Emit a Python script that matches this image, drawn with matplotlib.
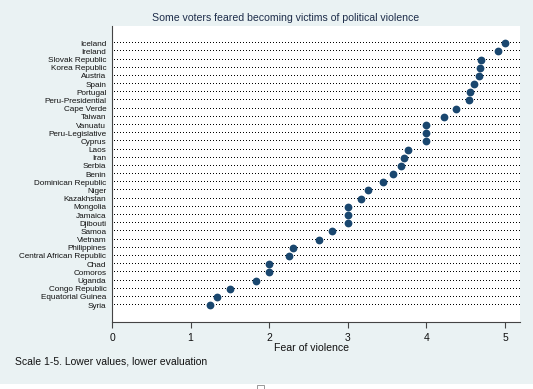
import numpy as np
import matplotlib.pyplot as plt
import matplotlib.patches as patches

plt.rcParams['font.family'] = ['Liberation Sans', 'DejaVu Sans']

countries = ['Iceland', 'Ireland', 'Slovak Republic', 'Korea Republic', 'Austria',
             'Spain', 'Portugal', 'Peru-Presidential', 'Cape Verde', 'Taiwan',
             'Vanuatu', 'Peru-Legislative', 'Cyprus', 'Laos', 'Iran', 'Serbia',
             'Benin', 'Dominican Republic', 'Niger', 'Kazakhstan', 'Mongolia',
             'Jamaica', 'Djibouti', 'Samoa', 'Vietnam', 'Philippines',
             'Central African Republic', 'Chad', 'Comoros', 'Uganda',
             'Congo Republic', 'Equatorial Guinea', 'Syria']
fear = [5.0, 4.91, 4.70, 4.675, 4.67, 4.61, 4.555, 4.54, 4.38, 4.22,
        4.0, 4.0, 4.0, 3.76, 3.72, 3.67, 3.57, 3.45, 3.26, 3.17,
        3.0, 3.0, 3.0, 2.80, 2.63, 2.30, 2.25, 2.0, 2.0, 1.83,
        1.50, 1.34, 1.25]
xticks = [0, 1, 2, 3, 4, 5]

W, H = 533, 389
bg = '#eaf2f3'
fig = plt.figure(figsize=(W / 100, H / 100), dpi=100, facecolor=bg)
# plot region in pixels: left 112, right 520, top 26, bottom 322
ax = fig.add_axes([112 / W, 1 - 322 / H, (520 - 112) / W, (322 - 26) / H])
ax.set_facecolor('white')

n = len(countries)
ypos = np.arange(n)[::-1]
xmax = 5.19

# dotted guide lines: one pixel dot every 3 pixels
step = xmax / 408 * 3
gx = np.arange(step / 2, xmax, step)
for y in ypos:
    ax.plot(gx, np.full_like(gx, y), ',', color='black', zorder=1)
ax.plot(fear, ypos, 'o', color='#1a476f', ms=5.6, mew=0, zorder=3)

ax.set_xlim(0, xmax)
ax.set_ylim(-2.07, n - 1 + 2.1)
ax.set_yticks(ypos)
ax.set_yticklabels(countries, fontsize=5.9, color='#111111')
ax.tick_params(axis='y', length=0, pad=4)
ax.set_xticks(xticks)
ax.tick_params(axis='x', length=4, width=0.8, color='#444444', labelsize=7.5,
               pad=4, labelcolor='#111111')
for s in ['top', 'right']:
    ax.spines[s].set_visible(False)
for s in ['left', 'bottom']:
    ax.spines[s].set_color('#444444')
    ax.spines[s].set_linewidth(0.8)

fig.text(286 / W, 1 - 18 / H, 'Some voters feared becoming victims of political violence',
         ha='center', va='center', fontsize=7.6, color='#1e2d4a')
fig.text(312 / W, 1 - 348 / H, 'Fear of violence', ha='center', va='center',
         fontsize=7.6, color='#111111')
fig.text(15 / W, 1 - 361 / H, 'Scale 1-5. Lower values, lower evaluation',
         ha='left', va='center', fontsize=7.5, color='#111111')

# white strip at the bottom edge with a small box
fig.patches.append(patches.Rectangle((0, 0), 1, 5 / H, transform=fig.transFigure,
                                     facecolor='white', edgecolor='none'))
fig.patches.append(patches.Rectangle((257 / W, 0), 7 / W, 4 / H,
                                     transform=fig.transFigure,
                                     facecolor='white', edgecolor='#888888', lw=0.6))

fig.savefig('out.png', dpi=100, facecolor=bg)
